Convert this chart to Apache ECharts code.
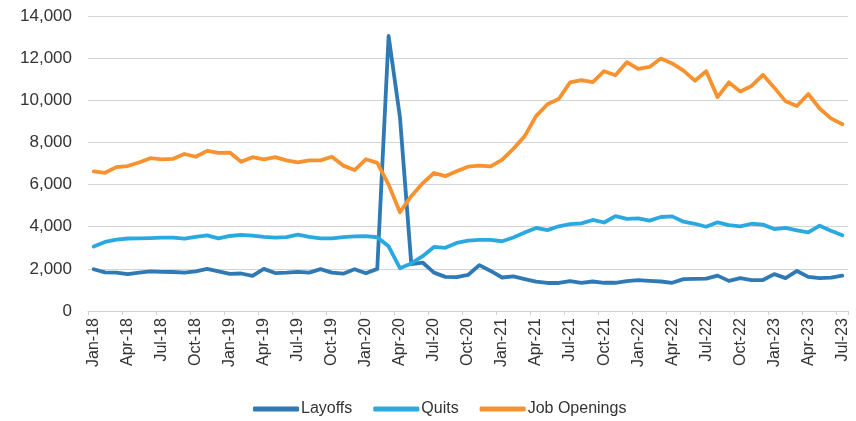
<!DOCTYPE html>
<html>
<head>
<meta charset="utf-8">
<script src="https://cdn.jsdelivr.net/npm/echarts@6/dist/echarts.min.js"></script>
<style>
  html, body { margin: 0; padding: 0; background: #ffffff; }
  #chart { width: 856px; height: 421px; }
</style>
</head>
<body>
<div id="chart"></div>
<script>
const months = [
  'Jan-18','Feb-18','Mar-18','Apr-18','May-18','Jun-18','Jul-18','Aug-18','Sep-18','Oct-18','Nov-18','Dec-18',
  'Jan-19','Feb-19','Mar-19','Apr-19','May-19','Jun-19','Jul-19','Aug-19','Sep-19','Oct-19','Nov-19','Dec-19',
  'Jan-20','Feb-20','Mar-20','Apr-20','May-20','Jun-20','Jul-20','Aug-20','Sep-20','Oct-20','Nov-20','Dec-20',
  'Jan-21','Feb-21','Mar-21','Apr-21','May-21','Jun-21','Jul-21','Aug-21','Sep-21','Oct-21','Nov-21','Dec-21',
  'Jan-22','Feb-22','Mar-22','Apr-22','May-22','Jun-22','Jul-22','Aug-22','Sep-22','Oct-22','Nov-22','Dec-22',
  'Jan-23','Feb-23','Mar-23','Apr-23','May-23','Jun-23','Jul-23'
];

const layoffs = [
  1980,1830,1820,1750,1820,1880,1860,1850,1820,1880,2000,1880,
  1760,1780,1670,2000,1800,1820,1860,1820,1990,1820,1770,1980,
  1790,2000,13050,9200,2230,2300,1820,1620,1610,1710,2180,1900,
  1590,1640,1510,1390,1330,1330,1420,1330,1400,1340,1340,1420,
  1470,1430,1400,1340,1510,1520,1540,1680,1430,1560,1470,1470,
  1750,1560,1900,1620,1560,1580,1680
];

const quits = [
  3060,3280,3390,3440,3450,3460,3480,3480,3430,3520,3590,3450,
  3560,3610,3580,3520,3480,3510,3620,3520,3450,3450,3510,3540,
  3550,3500,3070,2030,2260,2600,3040,3000,3230,3340,3380,3380,
  3310,3490,3720,3940,3840,4020,4120,4160,4320,4200,4500,4370,
  4400,4290,4460,4490,4240,4140,4000,4210,4080,4020,4140,4100,
  3890,3940,3830,3730,4050,3810,3590
];

const jobOpenings = [
  6630,6560,6830,6880,7050,7250,7200,7220,7450,7320,7600,7500,
  7520,7080,7300,7200,7300,7150,7050,7150,7150,7320,6900,6690,
  7200,7030,6000,4690,5450,6060,6550,6400,6630,6850,6900,6860,
  7170,7700,8300,9250,9810,10060,10850,10960,10860,11380,11190,11810,
  11490,11580,11980,11750,11410,10930,11380,10150,10850,10420,10680,11210,
  10600,9950,9730,10300,9610,9140,8860
];

const seriesNames = ['Layoffs', 'Quits', 'Job Openings'];
const seriesColors = ['#2f7ab5', '#2aa9e0', '#f7922f'];
const seriesData = [layoffs, quits, jobOpenings];

const chart = echarts.init(document.getElementById('chart'), null, { renderer: 'canvas' });

const fontFamily = '"Liberation Sans", Arial, sans-serif';

const option = {
  animation: false,
  backgroundColor: '#ffffff',
  grid: { left: 88, right: 8, top: 16, bottom: 110, outerBoundsMode: 'none' },
  legend: {
    data: seriesNames,
    top: 401,
    left: 253,
    padding: 0,
    icon: 'roundRect',
    itemWidth: 46,
    itemHeight: 5,
    itemGap: 21,
    textStyle: { color: '#333333', fontSize: 16, fontFamily: fontFamily, padding: [0, 0, 0, -3] }
  },
  xAxis: {
    type: 'category',
    data: months,
    boundaryGap: true,
    axisLine: { show: true, lineStyle: { color: '#cfcfcf', width: 1 } },
    axisTick: { show: true, interval: 2, length: 4, lineStyle: { color: '#cfcfcf' } },
    axisLabel: {
      interval: 2,
      rotate: 90,
      margin: 7,
      color: '#333333',
      fontSize: 16,
      fontFamily: fontFamily
    },
    splitLine: { show: false }
  },
  yAxis: {
    type: 'value',
    min: 0,
    max: 14000,
    interval: 2000,
    axisLine: { show: false },
    axisTick: { show: false },
    axisLabel: {
      margin: 16,
      color: '#333333',
      fontSize: 17,
      fontFamily: fontFamily,
      formatter: function (v) { return v.toLocaleString('en-US'); }
    },
    splitLine: { show: true, lineStyle: { color: '#d4d4d4', width: 1 } }
  },
  series: seriesNames.map(function (name, k) {
    return {
      name: name,
      type: 'line',
      data: seriesData[k],
      showSymbol: false,
      symbol: 'none',
      color: seriesColors[k],
      lineStyle: { width: 3.8, color: seriesColors[k], cap: 'round', join: 'round' },
      z: 2 + k
    };
  })
};

chart.setOption(option);
</script>
</body>
</html>
